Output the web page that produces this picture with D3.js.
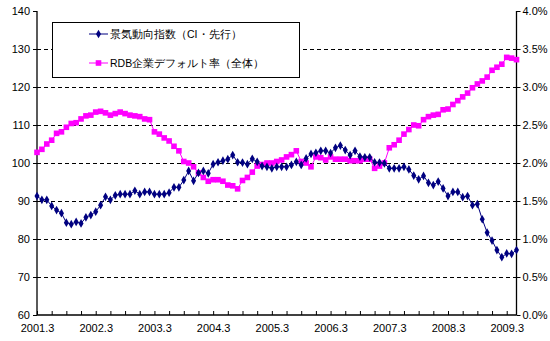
<!DOCTYPE html>
<html><head><meta charset="utf-8">
<script src="https://cdn.jsdelivr.net/npm/d3@7"></script>
<style>
html,body{margin:0;padding:0;background:#fff;}
svg{display:block;}
text{font-family:"Liberation Sans",Arial,sans-serif;}
</style></head>
<body>
<svg id="c" width="550" height="341"></svg>
<script>
// X-axis tick labels (every 12 months, starting at 2001.3)
const xLabels = ["2001.3","2002.3","2003.3","2004.3","2005.3","2006.3","2007.3","2008.3","2009.3"];
// Left axis ticks and right axis ticks
const leftTicks = [60,70,80,90,100,110,120,130,140];
const rightTicks = [0,0.5,1.0,1.5,2.0,2.5,3.0,3.5,4.0];
// Series names
const seriesNames = ["景気動向指数（CI・先行）","RDB企業デフォルト率（全体）"];
// Monthly values 2001.3 – 2009.5
const ciLeading = [
 91.3,90.3,90.3,88.7,87.6,86.8,84.3,83.9,84.5,84.1,85.7,86.3,
 87.2,88.9,91.1,90.3,91.5,91.8,91.8,91.8,92.7,91.8,92.4,92.4,
 91.8,91.8,91.8,92.2,93.6,93.6,95.5,97.9,95.3,97.4,97.9,97.3,
 99.7,100.2,100.6,101.0,102.1,100.2,100.1,99.7,101.1,100.3,99.2,99.0,
 98.6,99.0,99.0,99.0,99.5,100.3,99.5,101.2,102.4,102.7,103.2,103.2,
 102.6,104.0,104.6,103.4,102.1,103.2,101.7,101.5,101.5,100.2,100.1,99.9,
 98.6,98.6,98.6,99.0,98.3,96.7,95.7,96.6,94.8,94.2,95.1,93.3,
 91.3,92.4,92.4,91.0,91.3,88.9,89.2,85.2,81.7,79.6,77.1,75.2,
 76.2,76.1,77.1
];
const defaultRate = [
 2.14,2.18,2.25,2.30,2.39,2.41,2.47,2.52,2.53,2.58,2.62,2.63,
 2.67,2.68,2.66,2.63,2.65,2.67,2.65,2.63,2.62,2.61,2.58,2.57,
 2.41,2.38,2.33,2.29,2.22,2.16,2.02,2.00,1.95,1.87,1.81,1.76,
 1.78,1.78,1.76,1.71,1.70,1.66,1.77,1.81,1.88,1.96,1.98,2.00,
 2.00,2.02,2.04,2.08,2.11,2.16,2.02,2.00,1.95,2.08,2.07,2.04,
 2.08,2.05,2.05,2.05,2.03,2.03,2.03,2.05,2.05,1.93,1.96,2.00,
 2.20,2.24,2.30,2.38,2.44,2.50,2.49,2.57,2.61,2.63,2.64,2.70,
 2.71,2.77,2.82,2.87,2.92,2.99,3.04,3.08,3.13,3.22,3.26,3.30,
 3.39,3.38,3.36
];

const svg = d3.select("#c");
const L = 37, R = 516.5, T = 11, B = 315;
const n = ciLeading.length;
const x = d3.scaleLinear().domain([0, n - 1]).range([L, R]);
const y = d3.scaleLinear().domain([60, 140]).range([B, T]);
const y2 = d3.scaleLinear().domain([0, 4]).range([B, T]);

// gridlines
svg.append("g").selectAll("line").data(leftTicks.filter(d => d > 60 && d < 140)).join("line")
  .attr("x1", L).attr("x2", R)
  .attr("y1", d => Math.round(y(d)) + 0.5).attr("y2", d => Math.round(y(d)) + 0.5)
  .attr("stroke", "#000").attr("stroke-width", 1).attr("stroke-dasharray", "4,3");

// axes
const gl = svg.append("g").attr("transform", `translate(${L},0)`)
  .call(d3.axisLeft(y).tickValues(leftTicks).tickSize(4).tickPadding(3).tickFormat(d3.format("d")));
const gr = svg.append("g").attr("transform", `translate(${R},0)`)
  .call(d3.axisRight(y2).tickValues(rightTicks).tickSize(4).tickPadding(2).tickFormat(d => d.toFixed(1) + "%"));
const qTicks = d3.range(0, n, 3);
const gb = svg.append("g").attr("transform", `translate(0,${B})`)
  .call(d3.axisBottom(x).tickValues(qTicks).tickSize(-4).tickFormat(() => ""));
const gbl = svg.append("g").attr("transform", `translate(0,${B})`)
  .call(d3.axisBottom(x).tickValues(xLabels.map((d, i) => i * 12)).tickSize(0).tickPadding(9)
    .tickFormat((d, i) => xLabels[i]));
gbl.select(".domain").remove();
[gl, gr, gb, gbl].forEach(g => {
  g.selectAll("text").attr("font-size", 11).attr("fill", "#000")
    .attr("font-family", "'Liberation Sans',Arial,sans-serif");
  g.selectAll("line").attr("stroke", "#000");
  g.selectAll(".domain").attr("stroke", "#000").attr("stroke-width", 1.3);
});
gl.select(".domain").attr("d", `M0,${T}V${B}`);
gr.select(".domain").attr("d", `M0,${T}V${B}`);
gb.select(".domain").attr("d", `M${L},0H${R}`);

// pink series
const line2 = d3.line().x((d, i) => x(i)).y(d => y2(d));
svg.append("path").datum(defaultRate).attr("d", line2)
  .attr("fill", "none").attr("stroke", "#ff00ff").attr("stroke-width", 1);
svg.append("g").selectAll("rect").data(defaultRate).join("rect")
  .attr("x", (d, i) => x(i) - 2.8).attr("y", d => y2(d) - 2.8)
  .attr("width", 5.6).attr("height", 5.6).attr("fill", "#ff00ff");

// blue series
const line1 = d3.line().x((d, i) => x(i)).y(d => y(d));
svg.append("path").datum(ciLeading).attr("d", line1)
  .attr("fill", "none").attr("stroke", "#000080").attr("stroke-width", 1);
const diamond = d3.symbol().type(d3.symbolDiamond).size(22);
svg.append("g").selectAll("path").data(ciLeading).join("path")
  .attr("d", diamond)
  .attr("transform", (d, i) => `translate(${x(i)},${y(d)})`)
  .attr("fill", "#000080");

// legend
const lg = svg.append("g");
lg.append("rect").attr("x", 52.5).attr("y", 22.5).attr("width", 247).attr("height", 55)
  .attr("fill", "#fff").attr("stroke", "#000").attr("stroke-width", 1);
const ly = [34, 63];
lg.append("line").attr("x1", 89).attr("x2", 108).attr("y1", ly[0]).attr("y2", ly[0]).attr("stroke", "#000080");
lg.append("path").attr("d", diamond).attr("transform", `translate(98.5,${ly[0]})`).attr("fill", "#000080");
lg.append("line").attr("x1", 89).attr("x2", 108).attr("y1", ly[1]).attr("y2", ly[1]).attr("stroke", "#ff00ff");
lg.append("rect").attr("x", 95.7).attr("y", ly[1] - 2.8).attr("width", 5.6).attr("height", 5.6).attr("fill", "#ff00ff");
seriesNames.forEach((s, i) => {
  lg.append("text").attr("x", 110).attr("y", ly[i]).attr("dy", "0.36em")
    .attr("font-size", 10.5).attr("font-family", "'Noto Sans CJK JP',sans-serif")
    .attr("fill", "#000").text(s);
});
</script>
</body></html>
